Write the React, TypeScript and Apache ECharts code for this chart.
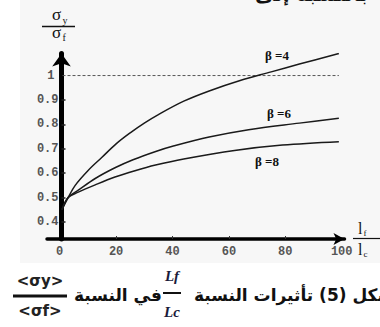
import React, { useEffect, useRef } from "react";
import * as echarts from "echarts";

// ---- data ----
const beta4: [number, number][] = [
  [0.8, 0.45], [3, 0.5], [5.5, 0.55], [10, 0.61], [15, 0.665], [20, 0.72], [25, 0.765],
  [30, 0.805], [35, 0.84], [44, 0.895], [53, 0.937], [64, 0.98], [75, 1.015], [85, 1.047], [99, 1.09],
];
const beta6: [number, number][] = [
  [0.8, 0.45], [3, 0.5], [6.6, 0.53], [12.6, 0.578], [19.6, 0.622], [26, 0.655], [33.8, 0.688],
  [40, 0.71], [53, 0.748], [67, 0.778], [85, 0.805], [99, 0.825],
];
const beta8: [number, number][] = [
  [0.8, 0.45], [3, 0.5], [6.6, 0.522], [12.6, 0.552], [19.6, 0.584], [26.7, 0.61], [34, 0.633],
  [44, 0.658], [62, 0.693], [79, 0.715], [99, 0.729],
];
const refLine: [number, number][] = [[1, 1], [99, 1]];
const xLabelValues = [0, 20, 40, 60, 80, 100];
const xTickValues = [20, 40, 60, 80];
const yLabelValues = [0.4, 0.5, 0.6, 0.7, 0.8, 0.9, 1.0];
const yTickValues = [0.4, 0.5, 0.6, 0.7, 0.8, 0.9];
const betaLabels = ["β =4", "β =6", "β =8"];
const captionRight = "الشكل (5) تأثيرات النسبة";
const captionMid = "في النسبة";
const topFragment = "بالنسبة إلى";

const serif = "'Liberation Serif', 'DejaVu Serif', serif";
const arabic = "'DejaVu Sans', sans-serif";
const mono = "'Liberation Mono', 'DejaVu Sans Mono', monospace";

export default function App() {
  const ref = useRef<HTMLDivElement>(null);
  useEffect(() => {
    if (!ref.current) return;
    const chart = echarts.init(ref.current, undefined, { renderer: "svg" });
    const curveStyle = { color: "#1a1a1a", width: 1.5 };
    const mk = (data: [number, number][]) => ({
      type: "line",
      data,
      showSymbol: false,
      smooth: 0.35,
      lineStyle: curveStyle,
      silent: true,
    });
    chart.setOption({
      animation: false,
      backgroundColor: "#ffffff",
      grid: { left: 47, right: 35.5, top: 53.6, bottom: 88 },
      xAxis: {
        type: "value",
        min: -4.5,
        max: 101,
        axisLine: {
          show: true,
          onZero: false,
          symbol: ["none", "arrow"],
          symbolSize: [9, 11],
          lineStyle: { color: "#000", width: 3.5 },
        },
        axisTick: {
          show: true,
          inside: true,
          length: 3,
          customValues: xTickValues,
          lineStyle: { color: "#333", width: 1 },
        },
        axisLabel: {
          customValues: xLabelValues,
          fontFamily: mono,
          fontSize: 12,
          fontWeight: "bold",
          color: "#555",
          margin: 7,
        },
        splitLine: { show: false },
      },
      yAxis: {
        type: "value",
        min: 0.33,
        max: 1.09,
        offset: -14.5,
        axisLine: {
          show: true,
          onZero: false,
          symbol: ["none", "arrow"],
          symbolSize: [14, 13],
          lineStyle: { color: "#000", width: 5 },
        },
        axisTick: {
          show: true,
          inside: true,
          length: 4,
          customValues: yTickValues,
          lineStyle: { color: "#222", width: 1.5 },
        },
        axisLabel: {
          customValues: yLabelValues,
          fontFamily: mono,
          fontSize: 12,
          fontWeight: "bold",
          color: "#555",
          margin: 3,
          formatter: (v: number) => (Math.abs(v - 1) < 1e-6 ? "{o|1}" : v.toFixed(1)),
          rich: {
            o: { padding: [0, 4, 0, 0], fontFamily: mono, fontSize: 12, fontWeight: "bold", color: "#555" },
          },
        },
        splitLine: { show: false },
      },
      series: [
        {
          type: "line",
          data: refLine,
          showSymbol: false,
          silent: true,
          lineStyle: { color: "#555", width: 1, type: [3, 2] },
          z: 1,
        },
        mk(beta4),
        mk(beta6),
        mk(beta8),
      ],
      graphic: [
        { type: "rect", z: -10, shape: { x: 20, y: 0, width: 360, height: 263 }, style: { fill: "#f7f7f7" } },
        // top cut-off fragment
        {
          type: "text", x: 368, y: -6,
          style: { text: topFragment, font: `bold 20px ${arabic}`, fill: "#111", align: "right", verticalAlign: "middle" },
        },
        // y-axis title sigma_y / sigma_f
        { type: "text", x: 52, y: 14, style: { text: "σ", font: `17px ${serif}`, fill: "#111", align: "left", verticalAlign: "middle" } },
        { type: "text", x: 62.5, y: 20, style: { text: "y", font: `10px ${serif}`, fill: "#111", align: "left", verticalAlign: "middle" } },
        { type: "line", shape: { x1: 42, y1: 26.5, x2: 75, y2: 26.5 }, style: { stroke: "#111", lineWidth: 1.5 } },
        { type: "text", x: 52, y: 32, style: { text: "σ", font: `17px ${serif}`, fill: "#111", align: "left", verticalAlign: "middle" } },
        { type: "text", x: 62.5, y: 37.5, style: { text: "f", font: `10px ${serif}`, fill: "#111", align: "left", verticalAlign: "middle" } },
        // x-axis title l_f / l_c
        { type: "text", x: 358, y: 228, style: { text: "l", font: `16px ${serif}`, fill: "#111", align: "left", verticalAlign: "middle" } },
        { type: "text", x: 363.5, y: 233, style: { text: "f", font: `9px ${serif}`, fill: "#111", align: "left", verticalAlign: "middle" } },
        { type: "line", shape: { x1: 353, y1: 238.5, x2: 380, y2: 238.5 }, style: { stroke: "#111", lineWidth: 1.2 } },
        { type: "text", x: 358, y: 249, style: { text: "l", font: `16px ${serif}`, fill: "#111", align: "left", verticalAlign: "middle" } },
        { type: "text", x: 363.5, y: 254, style: { text: "c", font: `9px ${serif}`, fill: "#111", align: "left", verticalAlign: "middle" } },
        // beta labels
        { type: "text", x: 265, y: 55, style: { text: betaLabels[0], font: `bold 13px ${serif}`, fill: "#111", align: "left", verticalAlign: "middle" } },
        { type: "text", x: 267, y: 113, style: { text: betaLabels[1], font: `bold 13px ${serif}`, fill: "#111", align: "left", verticalAlign: "middle" } },
        { type: "text", x: 255, y: 161, style: { text: betaLabels[2], font: `bold 13px ${serif}`, fill: "#111", align: "left", verticalAlign: "middle" } },
        // caption
        { type: "text", x: 40, y: 281, style: { text: "<σy>", font: `bold 15px ${arabic}`, fill: "#222", align: "center", verticalAlign: "middle" } },
        { type: "line", shape: { x1: 13, y1: 296, x2: 67, y2: 296 }, style: { stroke: "#111", lineWidth: 3 } },
        { type: "text", x: 40, y: 311, style: { text: "<σf>", font: `bold 15px ${arabic}`, fill: "#222", align: "center", verticalAlign: "middle" } },
        { type: "text", x: 74, y: 295, style: { text: captionMid, font: `bold 17px ${arabic}`, fill: "#111", align: "left", verticalAlign: "middle" } },
        { type: "text", x: 172, y: 276, style: { text: "Lf", font: `italic bold 15px ${serif}`, fill: "#1a1a3a", align: "center", verticalAlign: "middle" } },
        { type: "line", shape: { x1: 163, y1: 293, x2: 181, y2: 293 }, style: { stroke: "#111", lineWidth: 2 } },
        { type: "text", x: 172, y: 312, style: { text: "Lc", font: `italic bold 15px ${serif}`, fill: "#1a1a3a", align: "center", verticalAlign: "middle" } },
        { type: "text", x: 194, y: 295, style: { text: captionRight, font: `bold 17px ${arabic}`, fill: "#111", align: "left", verticalAlign: "middle" } },
      ],
    });
    return () => chart.dispose();
  }, []);
  return (
    <div
      ref={ref}
      style={{ position: "fixed", left: 0, top: 0, width: 380, height: 327 }}
    />
  );
}
